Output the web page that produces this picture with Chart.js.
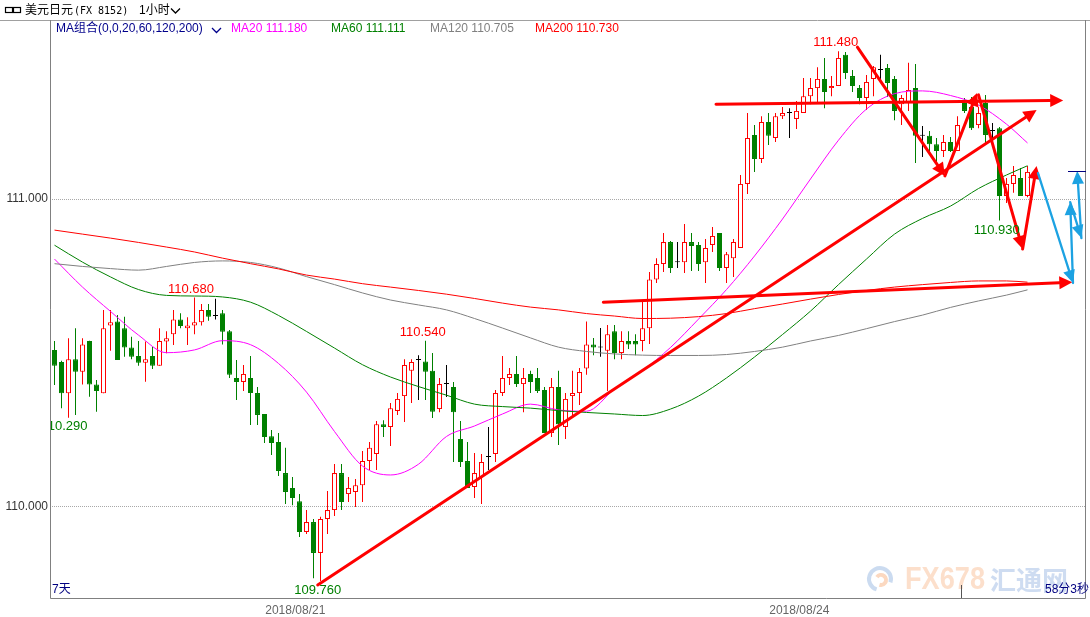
<!DOCTYPE html>
<html>
<head>
<meta charset="utf-8">
<script src="https://cdn.jsdelivr.net/npm/chart.js@4.4.1/dist/chart.umd.min.js"></script>
<style>
html, body { margin: 0; padding: 0; background: #fff; }
canvas { display: block; }
</style>
</head>
<body>
<canvas id="chart" width="1090" height="617"></canvas>
<script>
// USD/JPY 1 hour candles, 2018/08/20 - 2018/08/27
const opens = [110.510,110.471,110.369,110.480,110.439,110.539,110.398,110.369,110.589,110.602,
  110.580,110.518,110.490,110.468,110.490,110.459,110.537,110.561,110.609,110.580,
  110.589,110.600,110.640,110.620,110.629,110.571,110.419,110.406,110.419,110.370,
  110.302,110.230,110.211,110.110,110.062,110.019,109.919,109.951,109.851,109.961,
  109.990,110.110,110.042,110.049,110.071,110.149,110.172,110.269,110.260,110.312,
  110.360,110.442,110.477,110.472,110.442,110.318,110.399,110.390,110.221,110.149,
  110.065,110.097,110.162,110.172,110.370,110.419,110.432,110.399,110.432,110.419,
  110.380,110.240,110.390,110.260,110.360,110.370,110.450,110.528,110.518,110.507,
  110.571,110.500,110.539,110.539,110.539,110.580,110.739,110.789,110.860,110.795,
  110.795,110.860,110.851,110.795,110.851,110.890,110.776,110.808,110.841,111.049,
  111.208,111.130,111.250,111.198,111.269,111.279,111.260,111.279,111.334,111.360,
  111.390,111.360,111.367,111.468,111.399,111.360,111.328,111.390,111.419,111.425,
  111.390,111.308,111.315,111.360,111.205,111.205,111.178,111.156,111.185,111.156,
  111.312,111.299,111.240,111.312,111.221,111.230,111.010,111.049,111.068,111.010];
const highs = [110.539,110.475,110.548,110.580,110.548,110.540,110.412,110.640,110.640,110.623,
  110.618,110.553,110.539,110.537,110.520,110.580,110.571,110.640,110.629,110.616,
  110.680,110.659,110.659,110.676,110.640,110.575,110.477,110.461,110.490,110.390,
  110.302,110.250,110.240,110.192,110.097,110.042,109.990,109.961,109.968,110.052,
  110.140,110.140,110.097,110.091,110.182,110.211,110.279,110.282,110.338,110.370,
  110.480,110.480,110.493,110.540,110.500,110.419,110.461,110.406,110.279,110.211,
  110.175,110.172,110.260,110.380,110.490,110.451,110.490,110.451,110.442,110.451,
  110.390,110.419,110.442,110.370,110.442,110.451,110.602,110.549,110.581,110.591,
  110.591,110.571,110.571,110.561,110.669,110.763,110.808,110.890,110.864,110.860,
  110.919,110.890,110.860,110.870,110.909,110.890,110.828,110.870,111.078,111.279,
  111.240,111.269,111.279,111.279,111.299,111.295,111.318,111.393,111.393,111.428,
  111.458,111.399,111.480,111.477,111.419,111.370,111.403,111.432,111.468,111.438,
  111.399,111.338,111.442,111.438,111.237,111.221,111.198,111.208,111.201,111.269,
  111.328,111.331,111.299,111.338,111.247,111.234,111.068,111.107,111.101,111.107];
const lows = [110.396,110.321,110.290,110.299,110.398,110.358,110.309,110.369,110.507,110.477,
  110.488,110.480,110.459,110.407,110.448,110.459,110.499,110.526,110.580,110.526,
  110.561,110.589,110.605,110.609,110.528,110.419,110.347,110.377,110.266,110.266,
  110.208,110.169,110.101,110.010,110.006,109.903,109.912,109.769,109.760,109.912,
  109.971,109.990,110.016,110.000,110.016,110.120,110.120,110.227,110.198,110.299,
  110.276,110.338,110.347,110.347,110.289,110.308,110.357,110.146,110.130,110.062,
  110.029,110.010,110.120,110.146,110.360,110.396,110.390,110.308,110.370,110.370,
  110.240,110.227,110.201,110.221,110.289,110.331,110.429,110.493,110.488,110.377,
  110.480,110.480,110.513,110.493,110.506,110.529,110.727,110.763,110.760,110.776,
  110.760,110.766,110.766,110.727,110.828,110.766,110.727,110.747,110.841,111.016,
  111.088,111.117,111.175,111.185,111.260,111.198,111.227,111.279,111.308,111.315,
  111.295,111.334,111.367,111.390,111.347,111.308,111.289,111.334,111.386,111.331,
  111.256,111.240,111.286,111.117,111.136,111.146,111.117,111.136,111.153,111.156,
  111.279,111.224,111.230,111.182,111.169,110.930,110.987,111.020,111.010,111.006];
const closes = [110.459,110.369,110.480,110.439,110.528,110.398,110.377,110.580,110.600,110.477,
  110.518,110.488,110.468,110.480,110.459,110.539,110.548,110.609,110.588,110.589,
  110.600,110.640,110.618,110.620,110.569,110.429,110.406,110.432,110.370,110.299,
  110.227,110.208,110.117,110.049,110.029,109.919,109.951,109.851,109.961,109.990,
  110.110,110.016,110.062,110.071,110.149,110.192,110.269,110.260,110.321,110.351,
  110.461,110.471,110.477,110.439,110.309,110.399,110.399,110.308,110.146,110.062,
  110.110,110.146,110.162,110.370,110.419,110.432,110.399,110.419,110.406,110.377,
  110.240,110.390,110.269,110.351,110.370,110.438,110.528,110.518,110.518,110.561,
  110.500,110.539,110.528,110.528,110.580,110.739,110.789,110.860,110.776,110.795,
  110.860,110.847,110.789,110.841,110.880,110.776,110.821,110.860,111.049,111.198,
  111.130,111.250,111.205,111.269,111.279,111.279,111.286,111.334,111.360,111.390,
  111.347,111.367,111.458,111.409,111.367,111.328,111.380,111.428,111.419,111.377,
  111.286,111.328,111.354,111.205,111.205,111.178,111.156,111.185,111.156,111.240,
  111.286,111.230,111.279,111.208,111.221,111.010,111.049,111.078,111.010,111.088];

// moving averages, read at every 4th candle
const maIdx = [0,4,8,12,16,20,24,28,32,36,40,44,48,52,56,60,64,68,72,76,80,84,88,92,96,100,104,108,112,116,120,124,128,132,136,139];
const ma20 = [110.805,110.714,110.635,110.558,110.501,110.510,110.540,110.527,110.466,110.373,110.245,110.133,110.104,110.139,110.229,110.263,110.302,110.334,110.315,110.311,110.383,110.443,110.518,110.610,110.706,110.815,110.935,111.065,111.191,111.292,111.342,111.351,111.336,111.305,111.243,111.182];
const ma60 = [110.850,110.795,110.747,110.706,110.687,110.685,110.682,110.665,110.622,110.570,110.516,110.462,110.422,110.391,110.363,110.334,110.326,110.321,110.313,110.307,110.302,110.297,110.318,110.360,110.419,110.487,110.560,110.636,110.722,110.805,110.886,110.937,110.977,111.034,111.078,111.108];
const ma120 = [110.790,110.781,110.774,110.769,110.781,110.794,110.799,110.794,110.776,110.748,110.722,110.695,110.672,110.656,110.640,110.612,110.581,110.549,110.519,110.505,110.497,110.493,110.492,110.492,110.495,110.505,110.519,110.539,110.557,110.579,110.602,110.623,110.648,110.669,110.688,110.705];
const ma200 = [110.899,110.886,110.873,110.859,110.844,110.828,110.808,110.790,110.773,110.753,110.740,110.725,110.714,110.703,110.691,110.677,110.662,110.649,110.640,110.628,110.620,110.612,110.613,110.618,110.628,110.644,110.659,110.675,110.690,110.703,110.714,110.722,110.729,110.734,110.734,110.730];
const maNames = ['MA20', 'MA60', 'MA120', 'MA200'];
const maLegend = ['111.180', '111.111', '110.705', '110.730'];

const dayLabels = ['2018/08/21', '2018/08/24'];
const dayTickPos = [34.4, 106.4];
const yTicks = [110, 111];

// high / low marks
const markText = ['110.680', '110.290', '110.540', '109.760', '111.480', '110.930'];
const markIdx = [19.5, 1.43, 52.6, 37.6, 111.6, 134.6];
const markPrice = [110.708, 110.261, 110.567, 109.730, 111.509, 110.897];
const markUp = [true, false, true, false, true, false];

// hand drawn arrows: [fromIdx, fromPrice, toIdx, toPrice]
const redArrows = [
  [37.6, 109.747, 140.3, 111.289],
  [94.5, 111.308, 144.1, 111.320],
  [78.4, 110.665, 145.4, 110.730],
  [114.7, 111.493, 127.2, 111.075],
  [127.2, 111.075, 131.8, 111.344],
  [132.0, 111.338, 138.3, 110.838],
  [138.3, 110.838, 140.3, 111.107]
];
const blueArrows = [
  [140.5, 111.084, 145.5, 110.727],
  [145.5, 110.727, 145.1, 110.990],
  [145.1, 110.990, 146.7, 110.873],
  [146.7, 110.873, 146.1, 111.091]
];

const RED = '#ff0000', GREEN = '#008000';
const FONT = '"Liberation Sans", "Noto Sans CJK SC", sans-serif';

const candleColor = opens.map((o, i) => closes[i] > o ? RED : (closes[i] < o ? GREEN : '#000000'));
const bodyFill = opens.map((o, i) => closes[i] > o ? '#ffffff' : candleColor[i]);
const wickData = opens.map((o, i) => ({ x: i, y: [lows[i], highs[i]] }));
const bodyData = opens.map((o, i) => ({ x: i, y: [Math.min(o, closes[i]), Math.max(o, closes[i])] }));

function maLine(label, vals, color) {
  return {
    type: 'line', label: label,
    data: vals.map((v, k) => ({ x: maIdx[k], y: v })),
    borderColor: color, borderWidth: 1, pointRadius: 0,
    cubicInterpolationMode: 'monotone', fill: false, order: 1
  };
}

function arrow(ctx, x1, y1, x2, y2, color, lw, hl, hw) {
  const a = Math.atan2(y2 - y1, x2 - x1);
  const bx = x2 - hl * Math.cos(a), by = y2 - hl * Math.sin(a);
  ctx.strokeStyle = color;
  ctx.lineWidth = lw;
  ctx.lineCap = 'round';
  ctx.beginPath();
  ctx.moveTo(x1, y1);
  ctx.lineTo(bx, by);
  ctx.stroke();
  ctx.fillStyle = color;
  ctx.beginPath();
  ctx.moveTo(x2, y2);
  ctx.lineTo(bx + hw * Math.sin(a), by - hw * Math.cos(a));
  ctx.lineTo(bx - hw * Math.sin(a), by + hw * Math.cos(a));
  ctx.closePath();
  ctx.fill();
}

function chevron(ctx, x, y, color) {
  ctx.strokeStyle = color;
  ctx.lineWidth = 1.3;
  ctx.beginPath();
  ctx.moveTo(x, y);
  ctx.lineTo(x + 4.5, y + 4.5);
  ctx.lineTo(x + 9, y);
  ctx.stroke();
}

const decor = {
  id: 'decor',
  beforeDatasetsDraw(chart) {
    const ctx = chart.ctx;
    ctx.save();
    // watermark
    ctx.lineWidth = 4;
    ctx.strokeStyle = 'rgba(160,190,228,0.55)';
    ctx.beginPath(); ctx.arc(880, 579, 11, Math.PI * 0.6, Math.PI * 2.1); ctx.stroke();
    ctx.strokeStyle = 'rgba(248,190,150,0.6)';
    ctx.beginPath(); ctx.arc(881, 580, 5, Math.PI * 1.2, Math.PI * 2.6); ctx.stroke();
    ctx.textBaseline = 'middle';
    ctx.fillStyle = 'rgba(250,196,160,0.55)';
    ctx.font = 'bold 32px "Liberation Sans Narrow", "Liberation Sans", sans-serif';
    ctx.fillText('FX678', 905, 580, 80);
    ctx.fillStyle = 'rgba(165,192,230,0.55)';
    ctx.font = 'bold 26px "Noto Sans CJK SC", sans-serif';
    ctx.fillText('汇通网', 990, 580, 80);
    ctx.restore();
  },
  afterDatasetsDraw(chart) {
    const ctx = chart.ctx, xs = chart.scales.x, ys = chart.scales.y, area = chart.chartArea;
    ctx.save();
    ctx.beginPath();
    ctx.rect(area.left, area.top, area.right - area.left, area.bottom - area.top);
    ctx.clip();
    redArrows.forEach(a => arrow(ctx, xs.getPixelForValue(a[0]), ys.getPixelForValue(a[1]),
      xs.getPixelForValue(a[2]), ys.getPixelForValue(a[3]), RED, 3, 13, 6.5));
    blueArrows.forEach(a => arrow(ctx, xs.getPixelForValue(a[0]), ys.getPixelForValue(a[1]),
      xs.getPixelForValue(a[2]), ys.getPixelForValue(a[3]), '#1ca2e2', 2.3, 13, 6));
    ctx.font = '13px ' + FONT;
    ctx.textAlign = 'center';
    ctx.textBaseline = 'middle';
    markText.forEach((t, i) => {
      ctx.fillStyle = markUp[i] ? RED : GREEN;
      ctx.fillText(t, xs.getPixelForValue(markIdx[i]), ys.getPixelForValue(markPrice[i]));
    });
    ctx.restore();
  },
  afterDraw(chart) {
    const ctx = chart.ctx, area = chart.chartArea;
    ctx.save();
    // frame
    ctx.lineWidth = 1;
    ctx.strokeStyle = '#a0a0a0';
    ctx.beginPath(); ctx.moveTo(0, 20.5); ctx.lineTo(1090, 20.5); ctx.stroke();
    ctx.strokeStyle = '#808080';
    ctx.beginPath();
    ctx.moveTo(area.left + 0.5, 20); ctx.lineTo(area.left + 0.5, area.bottom + 0.5);
    ctx.lineTo(area.right - 0.5, area.bottom + 0.5); ctx.lineTo(area.right - 0.5, 20);
    ctx.stroke();
    ctx.strokeStyle = '#555';
    ctx.beginPath(); ctx.moveTo(961.5, 585); ctx.lineTo(961.5, area.bottom); ctx.stroke();
    ctx.strokeStyle = '#000080';
    ctx.beginPath(); ctx.moveTo(1068, 171.5); ctx.lineTo(area.right, 171.5); ctx.stroke();

    // header row 1
    ctx.textBaseline = 'middle';
    ctx.strokeStyle = '#000';
    ctx.lineWidth = 1.2;
    ctx.strokeRect(5.5, 7.5, 7, 5);
    ctx.strokeRect(13.5, 7.5, 7, 5);
    ctx.fillStyle = '#000';
    ctx.font = '12px ' + FONT;
    ctx.fillText('美元日元', 25, 11);
    ctx.font = '10px "DejaVu Sans Mono", monospace';
    ctx.fillText('(FX 8152)', 74, 11);
    ctx.font = '12px ' + FONT;
    ctx.fillText('1小时', 139, 11);
    chevron(ctx, 171, 8.5, '#000');

    // header row 2, MA legend
    ctx.fillStyle = '#00008b';
    ctx.fillText('MA组合(0,0,20,60,120,200)', 56, 29);
    chevron(ctx, 212, 28, '#00008b');
    const maColors = ['#ff00ff', GREEN, '#808080', RED];
    const maX = [231, 331, 430, 535];
    maNames.forEach((n, i) => {
      ctx.fillStyle = maColors[i];
      ctx.fillText(n + ' ' + maLegend[i], maX[i], 29);
    });

    // bottom texts
    ctx.fillStyle = '#000080';
    ctx.fillText('7天', 52, 590);
    ctx.textAlign = 'right';
    ctx.fillText('58分3秒', 1089, 590);
    ctx.restore();
  }
};

new Chart(document.getElementById('chart'), {
  type: 'bar',
  data: {
    datasets: [
      { label: 'wick', data: wickData, backgroundColor: candleColor, borderWidth: 0,
        barThickness: 1, maxBarThickness: 1, grouped: false, inflateAmount: 0, order: 3 },
      { label: 'body', data: bodyData, backgroundColor: bodyFill, borderColor: candleColor,
        borderWidth: 1, borderSkipped: false, barThickness: 5, maxBarThickness: 5,
        grouped: false, minBarLength: 1, inflateAmount: 0, order: 2 },
      maLine('MA200', ma200, RED),
      maLine('MA120', ma120, '#808080'),
      maLine('MA60', ma60, GREEN),
      maLine('MA20', ma20, '#ff00ff')
    ]
  },
  options: {
    responsive: false,
    animation: false,
    devicePixelRatio: 1,
    layout: { padding: { top: 21, right: 4, left: 0, bottom: 0 } },
    plugins: { legend: { display: false }, tooltip: { enabled: false } },
    scales: {
      x: {
        type: 'linear', min: -4.5 / 7, max: 148 - 4.5 / 7, offset: false,
        grid: { display: false }, border: { display: false },
        afterBuildTicks: s => { s.ticks = dayTickPos.map(v => ({ value: v })); },
        afterFit: s => { s.height = 19; },
        ticks: { autoSkip: false, maxRotation: 0, padding: -3, color: '#666',
          font: { family: FONT, size: 12 }, callback: (v, i) => dayLabels[i] }
      },
      y: {
        type: 'linear', min: 110 - 91 / 308, max: 111 + 178 / 308,
        grid: { color: '#a8a8a8', drawTicks: false },
        border: { display: false, dash: [1, 1] },
        afterBuildTicks: s => { s.ticks = yTicks.map(v => ({ value: v })); },
        afterFit: s => { s.width = 50; },
        ticks: { padding: 2, color: '#333', font: { family: FONT, size: 12 },
          callback: v => v.toFixed(3) }
      }
    }
  },
  plugins: [decor]
});
</script>
</body>
</html>
